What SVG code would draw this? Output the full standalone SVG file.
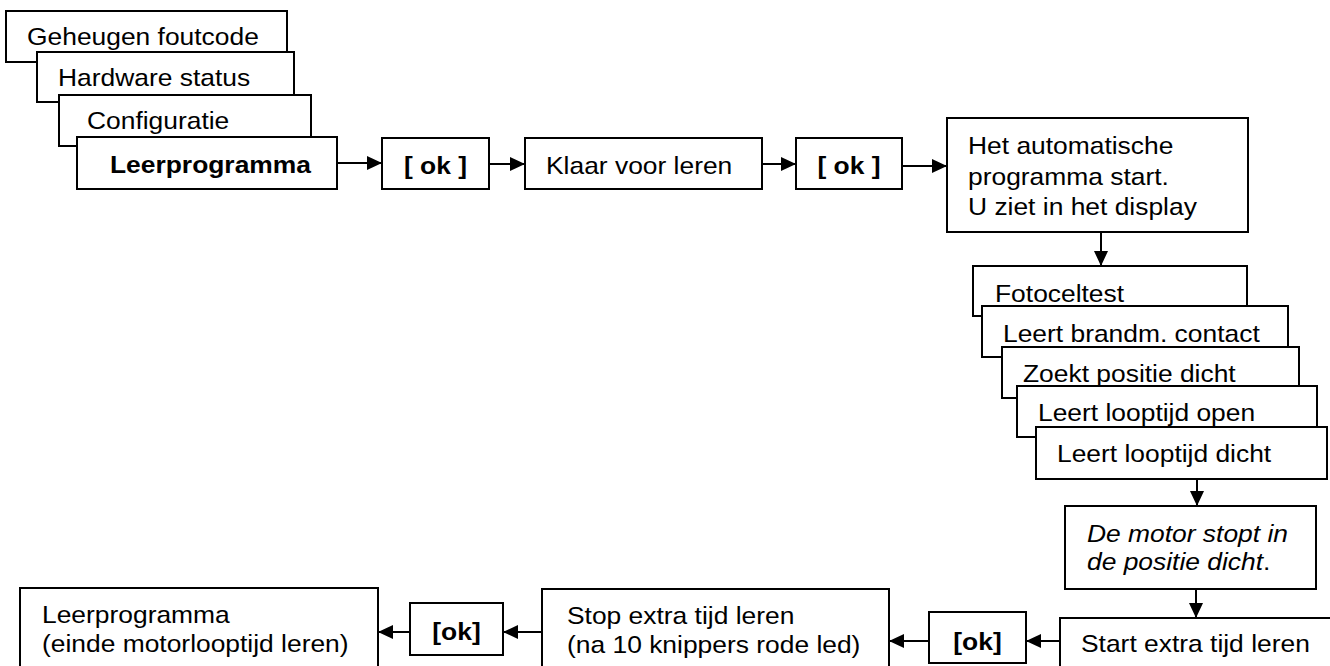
<svg xmlns="http://www.w3.org/2000/svg" width="1330" height="666" viewBox="0 0 1330 666">
<style>
  rect.box { fill: #ffffff; stroke: #000000; stroke-width: 2; }
  text { font-family: "Liberation Sans", Arial, sans-serif; font-size: 24px; fill: #000000; }
  text.b { font-weight: bold; }
  text.c { text-anchor: middle; }
  .conn line { stroke: #000000; stroke-width: 2; fill: none; marker-end: url(#ah); }
</style>
<defs>
  <marker id="ah" markerUnits="userSpaceOnUse" markerWidth="15" markerHeight="14" refX="15" refY="7" orient="auto">
    <path d="M0,0 L15,7 L0,14 Z" fill="#000000"/>
  </marker>
</defs>
<rect width="1330" height="666" fill="#ffffff"/>

<g id="n-geheugen"><rect class="box" x="6" y="11" width="281" height="51"/><text transform="translate(27 45) scale(1.1 1)">Geheugen foutcode</text></g>
<g id="n-hardware"><rect class="box" x="37" y="52" width="257" height="50"/><text transform="translate(58 86) scale(1.1 1)">Hardware status</text></g>
<g id="n-config"><rect class="box" x="59" y="95" width="252" height="51"/><text transform="translate(87 129) scale(1.1 1)">Configuratie</text></g>
<g id="n-leer"><rect class="box" x="77" y="137" width="260" height="52"/><text class="b" transform="translate(110 173) scale(1.1 1)">Leerprogramma</text></g>

<g id="n-ok1"><rect class="box" x="382" y="138" width="107" height="51"/><text class="b c" transform="translate(435.5 174) scale(1.1 1)">[ ok ]</text></g>
<g id="n-klaar"><rect class="box" x="525" y="138" width="237" height="51"/><text transform="translate(546 174) scale(1.1 1)">Klaar voor leren</text></g>
<g id="n-ok2"><rect class="box" x="796" y="138" width="106" height="51"/><text class="b c" transform="translate(849 174) scale(1.1 1)">[ ok ]</text></g>
<g id="n-auto"><rect class="box" x="947" y="118" width="301" height="114"/><text transform="translate(968 154) scale(1.1 1)"><tspan x="0" y="0">Het automatische</tspan><tspan x="0" y="31">programma start.</tspan><tspan x="0" y="61">U ziet in het display</tspan></text></g>

<g id="n-foto"><rect class="box" x="973" y="266" width="274" height="50"/><text transform="translate(995 302) scale(1.1 1)">Fotoceltest</text></g>
<g id="n-brand"><rect class="box" x="982" y="306" width="306" height="51"/><text transform="translate(1003 342) scale(1.1 1)">Leert brandm. contact</text></g>
<g id="n-zoekt"><rect class="box" x="1002" y="347" width="297" height="51"/><text transform="translate(1023 382) scale(1.1 1)">Zoekt positie dicht</text></g>
<g id="n-open"><rect class="box" x="1017" y="386" width="300" height="51"/><text transform="translate(1038 421) scale(1.1 1)">Leert looptijd open</text></g>
<g id="n-dicht"><rect class="box" x="1036" y="427" width="291" height="52"/><text transform="translate(1057 462) scale(1.1 1)">Leert looptijd dicht</text></g>

<g id="n-motor"><rect class="box" x="1065" y="506" width="251" height="83"/><text transform="translate(1087 542) scale(1.1 1)"><tspan x="0" y="0" font-style="italic">De motor stopt in</tspan><tspan x="0" y="28" font-style="italic">de positie dicht</tspan><tspan>.</tspan></text></g>
<g id="n-start"><rect class="box" x="1060" y="618" width="300" height="80"/><text transform="translate(1081 652) scale(1.1 1)">Start extra tijd leren</text></g>
<g id="n-ok3"><rect class="box" x="929" y="612" width="97" height="51"/><text class="b c" transform="translate(977.5 650) scale(1.1 1)">[ok]</text></g>
<g id="n-stop"><rect class="box" x="542" y="589" width="347" height="100"/><text transform="translate(567 624) scale(1.1 1)"><tspan x="0" y="0">Stop extra tijd leren</tspan><tspan x="0" y="29">(na 10 knippers rode led)</tspan></text></g>
<g id="n-ok4"><rect class="box" x="410" y="603" width="93" height="52"/><text class="b c" transform="translate(456.5 640) scale(1.1 1)">[ok]</text></g>
<g id="n-end"><rect class="box" x="20" y="588" width="358" height="100"/><text transform="translate(42 623) scale(1.1 1)"><tspan x="0" y="0">Leerprogramma</tspan><tspan x="0" y="29">(einde motorlooptijd leren)</tspan></text></g>

<g id="connectors" class="conn">
  <line x1="337" y1="163" x2="382" y2="163"/>
  <line x1="489" y1="164" x2="525" y2="164"/>
  <line x1="762" y1="164" x2="796" y2="164"/>
  <line x1="902" y1="166" x2="947" y2="166"/>
  <line x1="1101" y1="232" x2="1101" y2="266"/>
  <line x1="1197" y1="479" x2="1197" y2="506"/>
  <line x1="1196" y1="589" x2="1196" y2="618"/>
  <line x1="1060" y1="641" x2="1026" y2="641"/>
  <line x1="929" y1="641" x2="889" y2="641"/>
  <line x1="542" y1="632" x2="503" y2="632"/>
  <line x1="410" y1="632" x2="378" y2="632"/>
</g>
</svg>
